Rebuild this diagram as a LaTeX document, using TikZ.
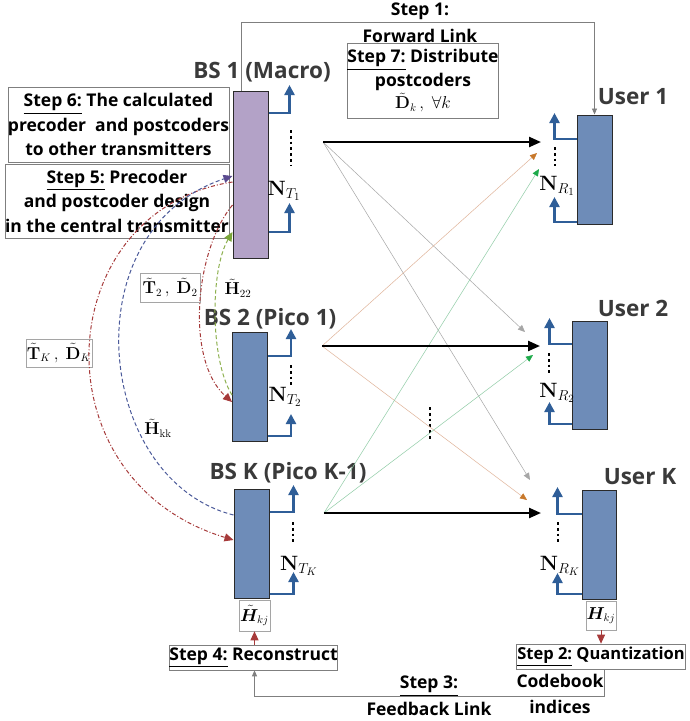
\documentclass[tikz,border=0pt]{standalone}
\usepackage{amsmath,bm}
\usepackage[no-math]{fontspec}
\setmainfont{Open Sans}
\usepackage{tikz}
\usetikzlibrary{positioning,arrows.meta}
\newcommand\steptxt{\fontsize{17.5}{24.5}\selectfont\bfseries}
\newcommand\bstxt{\fontsize{22.5}{26}\selectfont\bfseries}
\newcommand\nantfont{\fontsize{22}{24}\selectfont}
\newcommand\lblfont{\fontsize{16}{18}\selectfont}
\tikzset{
  bsbox/.style={rectangle, draw=edge, line width=1pt, minimum width=35pt, inner sep=0pt},
  ant/.style={-{Triangle[length=10pt,width=10pt]}, line width=2.4pt, draw=antblue, color=antblue},
  link/.style={-{Triangle[length=12pt,width=10pt]}, line width=2.3pt, draw=black},
  xlink/.style={-{Triangle[length=7pt,width=6pt,color=#1]}, line width=0.5pt},
  stepbox/.style={rectangle, draw=frame, line width=0.7pt, inner sep=0pt, align=center, font=\steptxt},
  steptext/.style={font=\steptxt, inner sep=0pt, align=center},
  bslabel/.style={font=\bstxt, text=title, inner sep=0pt},
  nlabel/.style={font=\nantfont, inner sep=0pt},
  mlabel/.style={rectangle, draw=frame!70, fill=white, line width=0.6pt, inner sep=1pt, font=\lblfont},
  hbox/.style={rectangle, draw=frame!70, fill=white, line width=0.6pt, inner sep=0pt, font=\lblfont},
  gline/.style={draw=frame, line width=0.8pt},
  ctip/.style={-{Triangle[length=9pt,width=8pt,color=#1]}},
  antdots/.style={line width=2.8pt, dash pattern=on 2.8pt off 3pt},
  curve/.style={line width=1pt},
}
\definecolor{edge}{HTML}{2A2A2A}
\definecolor{frame}{HTML}{7F7F7F}
\definecolor{title}{HTML}{3A3A3A}
\definecolor{bspurple}{HTML}{B3A2C7}
\definecolor{bsblue}{HTML}{6E8CB8}
\definecolor{antblue}{HTML}{2F5E98}
\definecolor{redc}{HTML}{A63A3A}
\definecolor{bluec}{HTML}{4B5A9A}
\definecolor{purtip}{HTML}{5B4A8F}
\definecolor{greenc}{HTML}{8DB04E}
\definecolor{greentip}{HTML}{7AA63A}
\definecolor{xgray}{HTML}{A6A6A6}
\definecolor{xtan}{HTML}{E0B49A}
\definecolor{xorange}{HTML}{C8782A}
\definecolor{xgreen}{HTML}{90CCA6}
\definecolor{xgreentip}{HTML}{1DAA4A}

\begin{document}
\begin{tikzpicture}[x=1pt, y=-1pt]
    \useasboundingbox[fill=white] (0,0) rectangle (689,721);
    \node[stepbox, minimum width=219pt, minimum height=75pt] (s6) at (118.5,124.5) {%
      \underline{Step 6:} The calculated\\precoder~ and postcoders\\to other transmitters};
    \node[stepbox, minimum width=216pt, minimum height=74pt] (s5) at (117,201) {%
      \underline{Step 5:} Precoder\\and postcoder design\\in the central transmitter};
    \node[stepbox, minimum width=150pt, minimum height=75pt] (s7) at (423,80.5) {%
      \underline{Step 7:} Distribute\\postcoders\\[-3pt]{\lblfont$\tilde{\mathbf{D}}_{k}\,,\;\forall k$}};
    \node[steptext] (s1a) at (420,13) {\underline{Step 1:}};
    \node[steptext] (s1b) at (420,36) {Forward Link};

    \node[bsbox, fill=bspurple, minimum height=167pt] (bs1) at (250.5,175) {};
    \node[bsbox, fill=bsblue, minimum height=109pt] (bs2) at (250,386.5) {};
    \node[bsbox, fill=bsblue, minimum height=109pt] (bsk) at (251.5,543.5) {};
    \node[bsbox, fill=bsblue, minimum height=109pt] (ue1) at (594.5,169.5) {};
    \node[bsbox, fill=bsblue, minimum height=108pt] (ue2) at (589.5,375) {};
    \node[bsbox, fill=bsblue, minimum height=109pt, minimum width=34pt] (uek) at (599,544.5) {};

    \node[bslabel] (bs1l) at (262,72) {BS 1 (Macro)};
    \node[bslabel] (bs2l) at (270,319) {BS 2 (Pico 1)};
    \node[bslabel] (bskl) at (288,473) {BS K (Pico K-1)};
    \node[bslabel] (ue1l) at (633,97) {User 1};
    \node[bslabel] (ue2l) at (633,308) {User 2};
    \node[bslabel] (uekl) at (640,477) {User K};

    \foreach \b/\ya/\yb/\dx/\ha/\hb in {bs1/113/232/21/28/29, bs2/356/436/23/27/22, bsk/512/594/24/27/22}{
      \draw[ant] (\b.east |- 0,\ya) -| ++(\dx,-\ha);
      \draw[ant] (\b.east |- 0,\yb) -| ++(\dx,-\hb);
    }
    \foreach \b/\ya/\yb/\dx/\ha/\hb in {ue1/139/222/22/26/25, ue2/344/424/22/26/22, uek/514/594/24/27/21}{
      \draw[ant] (\b.west |- 0,\ya) -| ++(-\dx,-\ha);
      \draw[ant] (\b.west |- 0,\yb) -| ++(-\dx,-\hb);
    }
    \draw[antdots] (291,130) -- (291,166);
    \draw[antdots] (291,365) -- (291,386);
    \draw[antdots] (293,522) -- (293,545);
    \draw[antdots] (555,147) -- (555,166);
    \draw[antdots] (549,353) -- (549,376);
    \draw[antdots] (558,522) -- (558,545);
    \draw[antdots] (430,407) -- (430,441);

    \node[nlabel] (nt1) at (284,191) {$\mathbf{N}_{T_1}$};
    \node[nlabel] (nt2) at (285,397) {$\mathbf{N}_{T_2}$};
    \node[nlabel] (ntk) at (299,566) {$\mathbf{N}_{T_K}$};
    \node[nlabel] (nr1) at (557,186) {$\mathbf{N}_{R_1}$};
    \node[nlabel] (nr2) at (557,393) {$\mathbf{N}_{R_2}$};
    \node[nlabel] (nrk) at (560,566) {$\mathbf{N}_{R_K}$};

    \coordinate (t1) at (323,142);
    \coordinate (t2) at (322,346);
    \coordinate (tk) at (324,513);
    \coordinate (r1) at (541,142);
    \coordinate (r2) at (540,346);
    \coordinate (rk) at (541,513);
    \coordinate (h12) at (525,332);
    \coordinate (h1k) at (530,480);
    \coordinate (h21) at (537,153);
    \coordinate (h2k) at (527,500);
    \coordinate (hk1) at (539,169);
    \coordinate (hk2) at (533,355);
    \draw[xlink=xgray, draw=xgray] (t1) -- (h12);
    \draw[xlink=xgray, draw=xgray] (t1) -- (h1k);
    \draw[xlink=xorange, draw=xtan] (t2) -- (h21);
    \draw[xlink=xorange, draw=xtan] (t2) -- (h2k);
    \draw[xlink=xgreentip, draw=xgreen] (tk) -- (hk1);
    \draw[xlink=xgreentip, draw=xgreen] (tk) -- (hk2);
    \draw[link] (t1) -- (r1);
    \draw[link] (t2) -- (r2);
    \draw[link] (tk) -- (rk);

    \draw[gline, -{Triangle[length=6pt,width=5pt]}] (bs1.north -| 241,0) |- (ue1.north |- 0,22) -- (ue1.north);

    \node[mlabel, minimum width=60pt, minimum height=29pt] (lt2) at (170,287.5) {$\tilde{\mathbf{T}}_{2}\,,\ \tilde{\mathbf{D}}_{2}$};
    \node[inner sep=1pt, font=\lblfont] (lh22) at (238,288) {$\tilde{\mathbf{H}}_{22}$};
    \node[mlabel, minimum width=66pt, minimum height=28pt] (ltk) at (59,353) {$\tilde{\mathbf{T}}_{K}\,,\ \tilde{\mathbf{D}}_{K}$};
    \node[inner sep=1pt, font=\lblfont] (lhkk) at (158,428) {$\tilde{\mathbf{H}}_{\mathrm{kk}}$};

    \draw[curve, redc, dash pattern=on 4pt off 2pt on 1pt off 2pt, ctip=redc] (bs1.west |- 0,182) .. controls (50,210) and (35,480) .. (bsk.west |- 0,540);
    \draw[curve, bluec, dash pattern=on 4pt off 2.5pt, ctip=purtip] (bsk.west |- 0,515) .. controls (95,480) and (70,230) .. (bs1.west |- 0,176);
    \draw[curve, redc, dash pattern=on 4pt off 2pt on 1pt off 2pt, ctip=redc] (bs1.west |- 0,205) .. controls (195,250) and (185,360) .. (bs2.west |- 0,402);
    \draw[curve, greenc, dash pattern=on 4pt off 2.5pt, ctip=greentip] (bs2.west |- 0,395) .. controls (210,360) and (210,270) .. (bs1.west |- 0,232);

    \node[hbox, minimum width=31pt, minimum height=31pt] (hkj1) at (254.5,615.5) {$\tilde{\bm{H}}_{kj}$};
    \node[hbox, minimum width=30pt, minimum height=29pt] (hkj2) at (601,615.5) {$\bm{H}_{kj}$};
    \node[stepbox, minimum width=167pt, minimum height=25pt] (s4) at (253.5,657.5) {\underline{Step 4:} Reconstruct};
    \node[stepbox, anchor=west, minimum height=25pt, inner xsep=1pt, font=\fontsize{16.5}{20}\selectfont\bfseries] (s2) at (516,656.5) {\underline{Step 2:} Quantization};
    \node[steptext] (cb1) at (560,681) {Codebook};
    \node[steptext] (cb2) at (560,707) {indices};
    \node[steptext] (s3a) at (429,686) {\underline{Step 3:}};
    \node[steptext] (s3b) at (429,709) {Feedback Link};
    \coordinate (fb) at (604,696);
    \draw[ctip=redc, redc, line width=1pt] (hkj2.south) -- (hkj2.south |- s2.north);
    \draw[ctip=redc, redc, line width=1pt] (hkj1.south |- s4.north) -- (hkj1.south);
    \draw[gline, -{Triangle[length=6pt,width=5pt]}] (s2.south -| fb) -- (fb) -| (s4.south -| hkj1.south);
  \end{tikzpicture}
\end{document}
